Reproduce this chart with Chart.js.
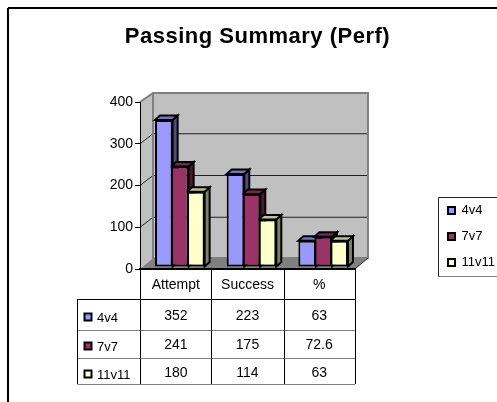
<!DOCTYPE html>
<html>
<head>
<meta charset="utf-8">
<title>Passing Summary (Perf)</title>
<script src="https://cdn.jsdelivr.net/npm/chart.js@4"></script>
<style>
  html, body { margin: 0; background: #fff; }
  canvas { display: block; }
</style>
</head>
<body>
<canvas id="myChart" width="497" height="402"></canvas>
<script>
const categories = ['Attempt', 'Success', '%']
const seriesNames = ['4v4', '7v7', '11v11']
const values4v4 = [352, 223, 63]
const values7v7 = [241, 175, 72.6]
const values11v11 = [180, 114, 63]
const yMax = 400
const yStep = 100

const fontName = '"Liberation Sans", Arial, sans-serif'
const fills = ['#9999FF', '#993366', '#FFFFCC']
const sideFills = ['#4D4D80', '#4D1A33', '#808066']
const topFills = ['#7373BF', '#73264D', '#BFBF99']

// how far the back wall and the bars sit behind the axes
const wallX = 13
const wallY = 11
const barShiftX = 4
const barShiftY = 2
const barDepthX = 5
const barDepthY = 4.5

const allValues = [values4v4, values7v7, values11v11]

function poly(ctx, pts, fill, stroke, width) {
    ctx.beginPath()
    pts.forEach((p, i) => i ? ctx.lineTo(p[0], p[1]) : ctx.moveTo(p[0], p[1]))
    ctx.closePath()
    if (fill) { ctx.fillStyle = fill; ctx.fill() }
    if (stroke) { ctx.strokeStyle = stroke; ctx.lineWidth = width; ctx.stroke() }
}

function line(ctx, x1, y1, x2, y2, color, width) {
    ctx.beginPath()
    ctx.moveTo(x1, y1)
    ctx.lineTo(x2, y2)
    ctx.strokeStyle = color
    ctx.lineWidth = width
    ctx.stroke()
}

const threeD = {
    id: 'threeD',
    afterLayout(chart) {
        // title and legend sit where the original has them, not where the layout puts them
        const t = chart.titleBlock
        t.left = 18; t.right = 497; t.top = 26
        if (!t.spaced) {
            const draw = t.draw
            t.draw = function () {
                chart.ctx.letterSpacing = '0.5px'
                draw.call(this)
                chart.ctx.letterSpacing = '0px'
            }
            t.spaced = true
        }
        const l = chart.legend
        const w = l.width, h = l.height
        l.left = 435; l.top = 191; l.right = 435 + w; l.bottom = 191 + h
    },
    beforeDraw(chart) {
        const ctx = chart.ctx
        const a = chart.chartArea
        const y = chart.scales.y

        // outer frame runs off the right and bottom of the picture
        line(ctx, 8, 8, 497, 8, '#000', 2)
        line(ctx, 8, 8, 8, 402, '#000', 2)

        // legend frame, open on the right as well
        line(ctx, 438.5, 197.5, 497, 197.5, '#222', 1)
        line(ctx, 438.5, 197.5, 438.5, 276.5, '#222', 1)
        line(ctx, 438.5, 276.5, 497, 276.5, '#808080', 1)

        const top = y.getPixelForValue(yMax)
        const bottom = y.getPixelForValue(0)
        const backL = a.left + wallX
        const backR = a.right + wallX

        poly(ctx, [[backL, top - wallY + 2], [backR, top - wallY + 2], [backR, bottom - wallY], [backL, bottom - wallY]], '#C0C0C0')
        poly(ctx, [[a.left, top], [backL, top - wallY + 2], [backL, bottom - wallY], [a.left, bottom]], '#C0C0C0')
        poly(ctx, [[a.left, bottom], [backL, bottom - wallY], [backR, bottom - wallY], [a.right, bottom]], '#808080')

        y.ticks.forEach(tick => {
            if (tick.value === 0 || tick.value === yMax) return
            const py = y.getPixelForValue(tick.value)
            line(ctx, a.left, py, backL, py - wallY + 1, '#222', 1)
            line(ctx, backL, py - wallY + 1, backR, py - wallY + 1, '#222', 1)
        })

        line(ctx, a.left, top, backL, top - wallY + 2, '#808080', 2)
        poly(ctx, [[backL, top - wallY + 2], [backR, top - wallY + 2], [backR, bottom - wallY], [backL, bottom - wallY]], null, '#808080', 2)
        line(ctx, a.right, bottom, backR, bottom - wallY, '#222', 1)
    },
    beforeDatasetsDraw(chart) {
        const ctx = chart.ctx
        ctx.save()
        ctx.translate(barShiftX, -barShiftY)
        chart.data.datasets.forEach((ds, i) => {
            chart.getDatasetMeta(i).data.forEach(bar => {
                const left = bar.x - bar.width / 2
                const right = bar.x + bar.width / 2
                poly(ctx, [[right, bar.y], [right + barDepthX, bar.y - barDepthY], [right + barDepthX, bar.base - barDepthY], [right, bar.base]], sideFills[i], '#000', 2)
                poly(ctx, [[left, bar.y], [left + barDepthX, bar.y - barDepthY], [right + barDepthX, bar.y - barDepthY], [right, bar.y]], topFills[i], '#000', 2)
            })
        })
    },
    afterDatasetsDraw(chart) {
        chart.ctx.restore()
    },
    afterDraw(chart) {
        // data table under the axis
        const ctx = chart.ctx
        const x = chart.scales.x
        const colLines = [140, 211, 284, 355]
        const tableLeft = 77.5
        const rowLines = [299.5, 330.5, 358.5, 384.5]
        const rowText = [316, 345, 373]
        const rowKey = [318, 347, 375]
        const axisY = chart.chartArea.bottom

        rowLines.forEach((py, i) => {
            line(ctx, tableLeft, py, 355, py, i ? '#808080' : '#000', 1)
        })
        colLines.forEach(px => line(ctx, px + 0.5, axisY, px + 0.5, 384, '#000', 1))
        line(ctx, tableLeft, 299, tableLeft, 384, '#000', 1)

        ctx.fillStyle = '#000'
        ctx.textBaseline = 'middle'
        seriesNames.forEach((name, r) => {
            ctx.lineWidth = 2
            ctx.strokeStyle = '#000'
            ctx.fillStyle = fills[r]
            ctx.fillRect(84.5, rowKey[r] - 4.5, 7, 7)
            ctx.strokeRect(84.5, rowKey[r] - 4.5, 7, 7)
            ctx.fillStyle = '#000'
            ctx.textAlign = 'left'
            ctx.font = '13px ' + fontName
            ctx.fillText(name, 97, rowKey[r])
            ctx.textAlign = 'center'
            ctx.font = '14px ' + fontName
            allValues[r].forEach((v, c) => {
                ctx.fillText(String(v), x.getPixelForTick(c), rowText[r])
            })
        })
    }
}

new Chart(document.getElementById('myChart'), {
    type: 'bar',
    data: {
        labels: categories,
        datasets: seriesNames.map((name, i) => ({
            label: name,
            data: allValues[i],
            backgroundColor: fills[i],
            borderColor: '#000',
            borderWidth: 2,
            borderSkipped: false,
            categoryPercentage: 0.67,
            barPercentage: 1.1
        }))
    },
    options: {
        responsive: false,
        animation: false,
        layout: { padding: { left: 100, right: 142, top: 80, bottom: 93 } },
        plugins: {
            title: {
                display: true,
                text: 'Passing Summary (Perf)',
                color: '#000',
                padding: 0,
                font: { family: fontName, size: 22, weight: 'bold', lineHeight: 1 }
            },
            legend: {
                position: 'chartArea',
                align: 'start',
                labels: {
                    color: '#000',
                    boxWidth: 7,
                    boxHeight: 7,
                    padding: 13,
                    font: { family: fontName, size: 13 }
                }
            },
            tooltip: { enabled: false }
        },
        scales: {
            x: {
                afterFit(s) { s.height = 40 },
                grid: { display: false },
                border: { display: true, color: '#000', width: 2 },
                ticks: {
                    color: '#000',
                    padding: 0,
                    maxRotation: 0,
                    font: { family: fontName, size: 14 }
                }
            },
            y: {
                min: 0,
                max: yMax,
                afterFit(s) { s.width = 40 },
                grid: { drawOnChartArea: false, color: '#000', tickLength: 5 },
                border: { display: true, color: '#000', width: 1 },
                ticks: {
                    color: '#000',
                    stepSize: yStep,
                    padding: 2,
                    font: { family: fontName, size: 14 }
                }
            }
        }
    },
    plugins: [threeD]
})

</script>
</body>
</html>
